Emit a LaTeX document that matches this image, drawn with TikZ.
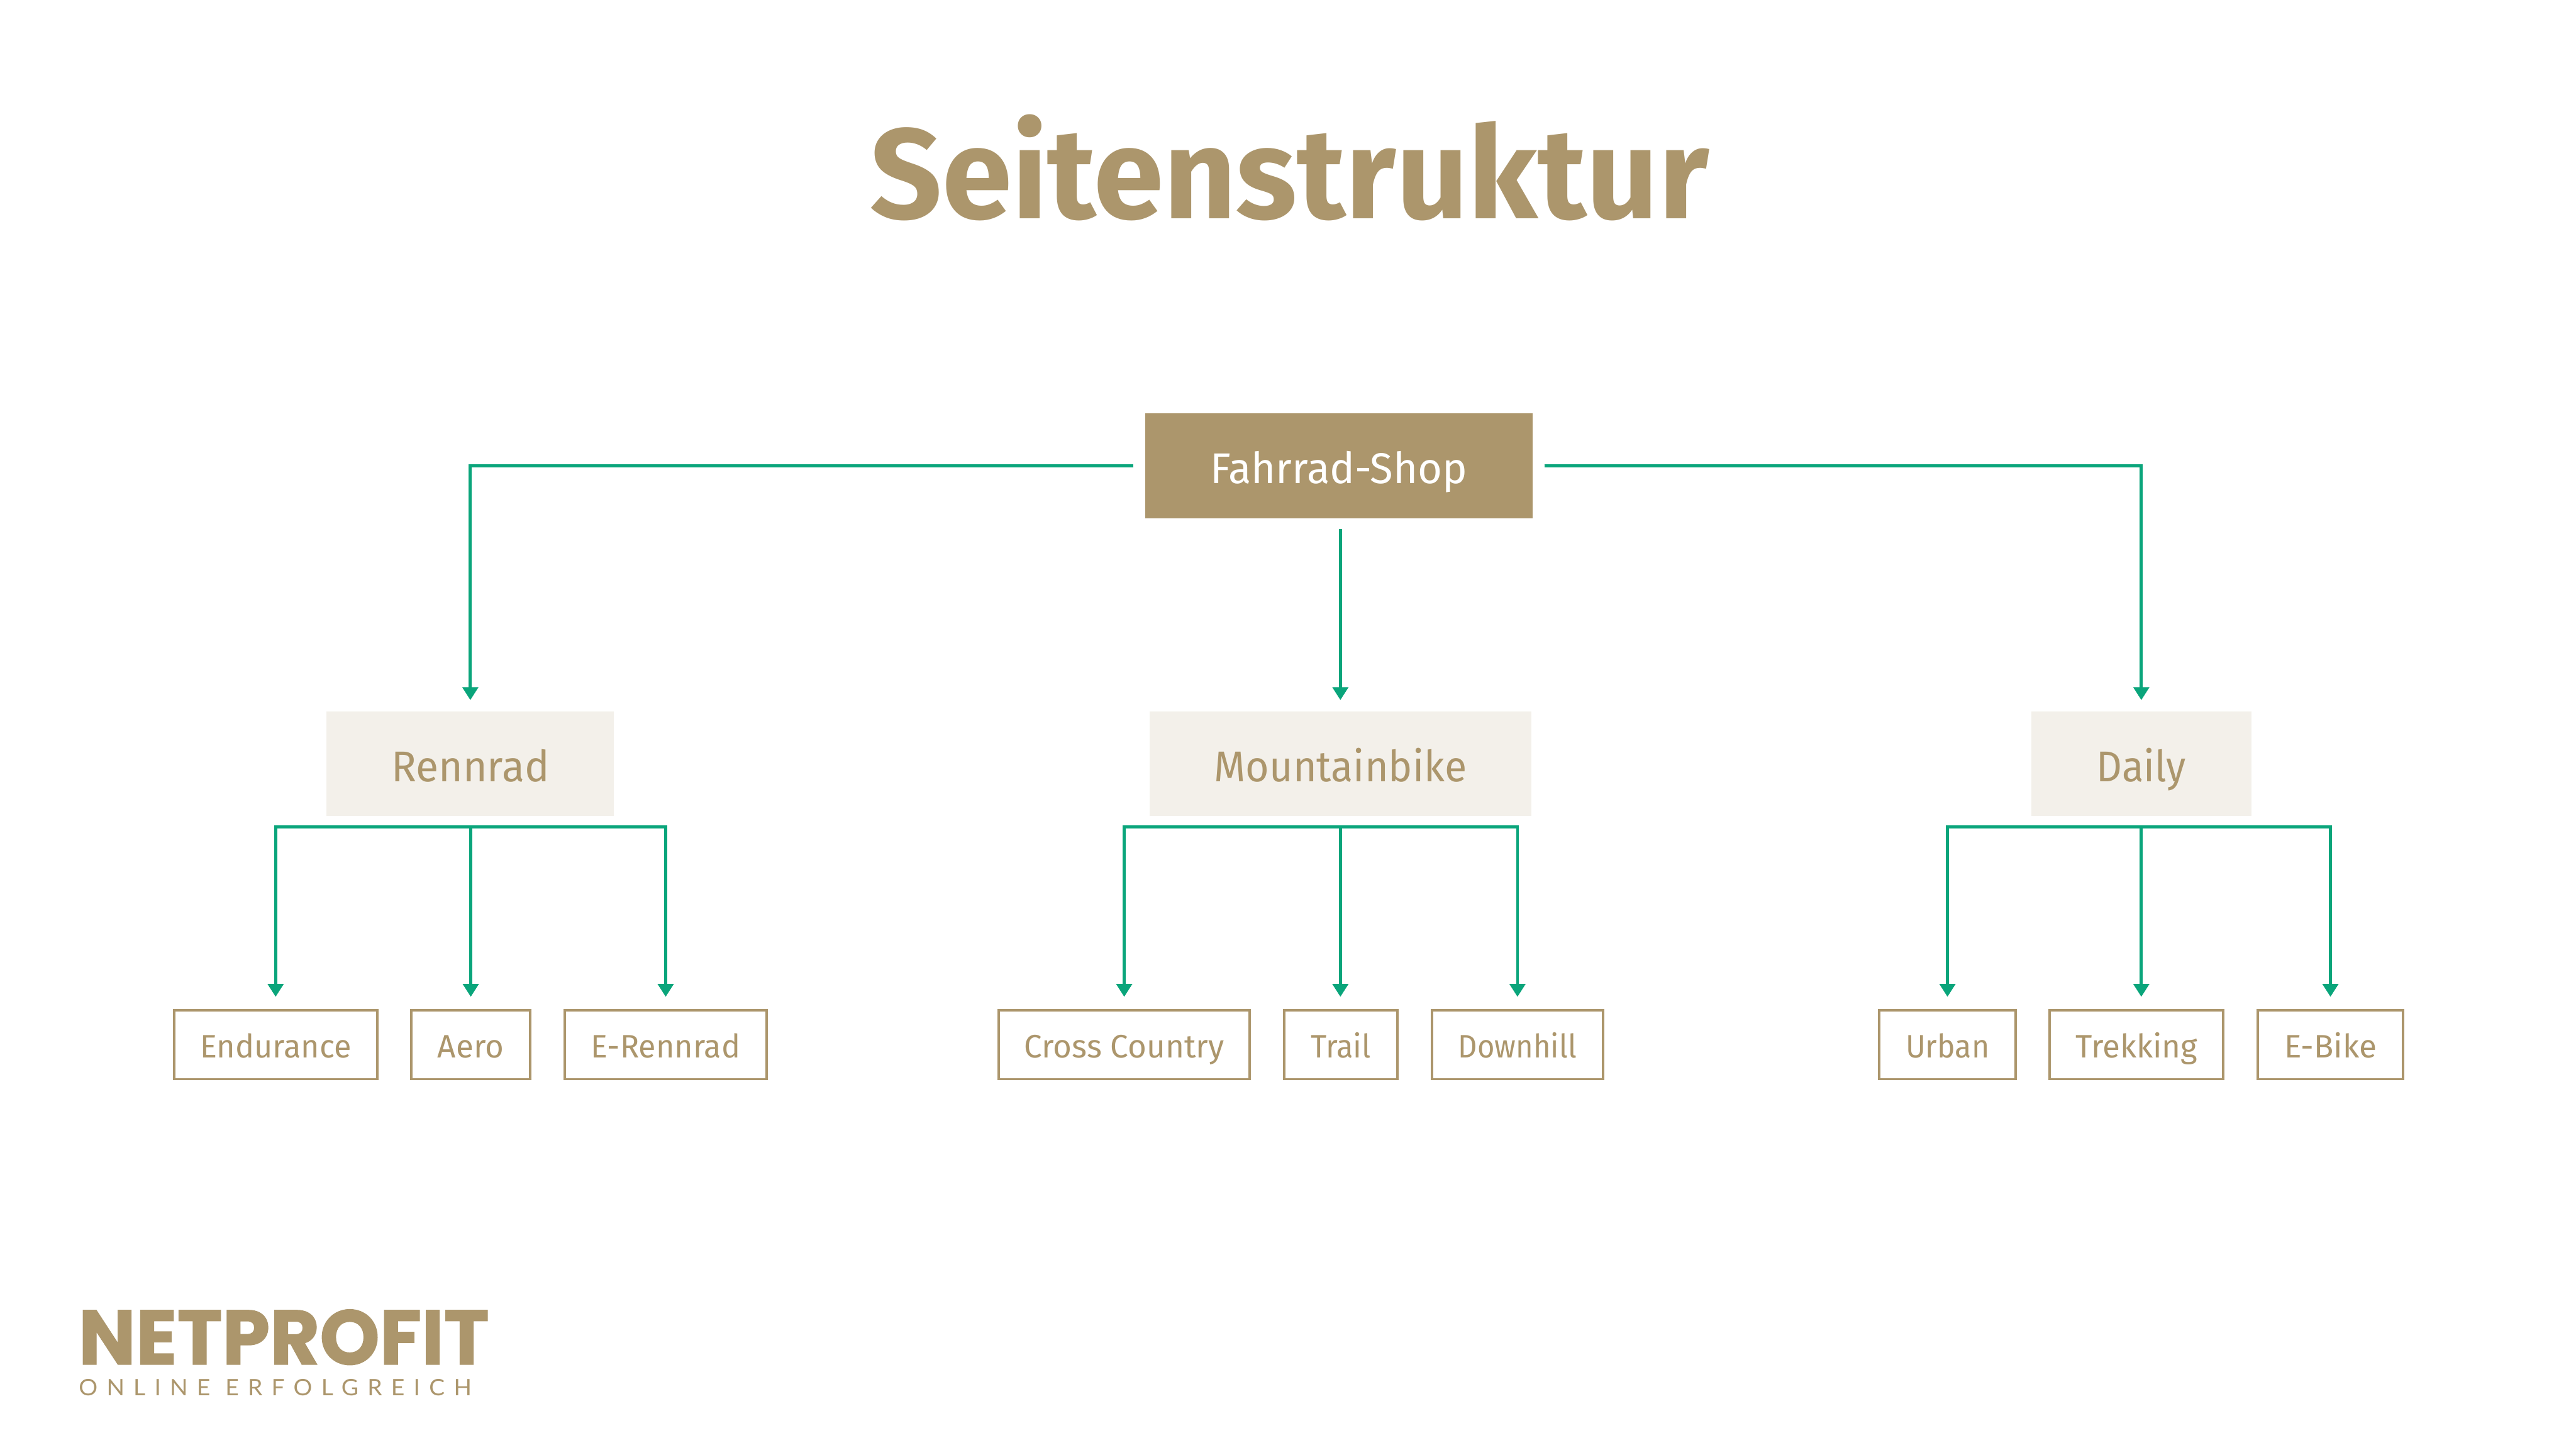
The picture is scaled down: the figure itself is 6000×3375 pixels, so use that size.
\documentclass[tikz,border=0pt]{standalone}
\usepackage{fontspec}
\usepackage{graphicx}
\setmainfont{Fira Sans}
\usetikzlibrary{arrows.meta,calc}
\definecolor{gold}{HTML}{AC966C}
\definecolor{pale}{HTML}{F3F0EA}
\definecolor{teal}{HTML}{0AA57B}
\newfontfamily\logofont[FakeBold=1.2]{Poppins Bold}
\newfontfamily\tagfont[LetterSpace=38]{Lato}
\newcommand{\fitw}[2]{\resizebox{#1cm}{\height}{#2}}
\tikzset{
 x=0.01cm,y=-0.01cm,
 rootbox/.style={fill=gold,inner sep=0,text=white,text height=0.8cm,text depth=0pt,minimum height=2.44cm,font=\fontsize{28.5}{30}\selectfont},
 midbox/.style={fill=pale,inner sep=0,text=gold,text height=0.82cm,text depth=0pt,minimum height=2.43cm,font=\fontsize{28.5}{30}\selectfont},
 leafbox/.style={draw=gold,line width=0.055cm,fill=white,inner sep=0,text=gold,text height=0.6cm,text depth=0pt,minimum height=1.6cm,font=\fontsize{21.5}{24}\selectfont},
 link/.style={draw=teal,line width=0.07cm},
 arrowed/.style={link,-{Triangle[length=0.3cm,width=0.36cm]}},
 bus/.style={link,line cap=rect},
}
\begin{document}
\begin{tikzpicture}
\useasboundingbox (0,0) rectangle (6000,3375);
\fill[white] (0,0) rectangle (6000,3375);
\node[anchor=base,text=gold,inner sep=0,font=\fontsize{85}{90}\selectfont\bfseries] (title) at (3004,509) {\fitw{19.53}{Seitenstruktur}};
\node[rootbox,minimum width=9.03cm] (root) at (3118.5,1085) {\fitw{5.99}{Fahrrad-Shop}};
\node[midbox,minimum width=6.69cm] (a) at (1095.5,1778.5) {\fitw{3.68}{Rennrad}};
\node[midbox,minimum width=8.88cm] (b) at (3122,1778.5) {\fitw{5.88}{Mountainbike}};
\node[midbox,minimum width=5.13cm] (c) at (4987.5,1778.5) {\fitw{2.08}{Daily}};
\node[leafbox,minimum width=4.73cm] (a1) at (642,2433) {\fitw{3.52}{Endurance}};
\node[leafbox,minimum width=2.76cm] (a2) at (1096.5,2433) {\fitw{1.54}{Aero}};
\node[leafbox,minimum width=4.70cm] (a3) at (1550.5,2433) {\fitw{3.47}{E-Rennrad}};
\node[leafbox,minimum width=5.84cm] (b1) at (2618.5,2433) {\fitw{4.65}{Cross Country}};
\node[leafbox,minimum width=2.63cm] (b2) at (3123,2433) {\fitw{1.40}{Trail}};
\node[leafbox,minimum width=3.98cm] (b3) at (3534.5,2433) {\fitw{2.75}{Downhill}};
\node[leafbox,minimum width=3.17cm] (c1) at (4536,2433) {\fitw{1.95}{Urban}};
\node[leafbox,minimum width=4.04cm] (c2) at (4976.5,2433) {\fitw{2.84}{Trekking}};
\node[leafbox,minimum width=3.39cm] (c3) at (5428,2433) {\fitw{2.15}{E-Bike}};
% connectors
\draw[arrowed,shorten <=0.26cm,shorten >=0.26cm] (root.west) -| (a.north);
\draw[arrowed,shorten <=0.26cm,shorten >=0.26cm] (root.east) -| (c.north);
\coordinate (rb) at (root.south -| b.north);
\draw[arrowed,shorten <=0.24cm,shorten >=0.26cm] (rb) -- (b.north);
\coordinate (abus) at ($(a.south)+(0,25)$);
\coordinate (bbus) at ($(b.south)+(0,25)$);
\coordinate (cbus) at ($(c.south)+(0,25)$);
\draw[arrowed,shorten >=0.29cm] (abus -| a1.north) -- (a1.north);
\draw[arrowed,shorten >=0.29cm] (abus -| a2.north) -- (a2.north);
\draw[arrowed,shorten >=0.29cm] (abus -| a3.north) -- (a3.north);
\draw[bus] (abus -| a1.north) -- (abus -| a3.north);
\draw[arrowed,shorten >=0.29cm] (bbus -| b1.north) -- (b1.north);
\draw[arrowed,shorten >=0.29cm] (bbus) -- (bbus |- b2.north);
\draw[arrowed,shorten >=0.29cm] (bbus -| b3.north) -- (b3.north);
\draw[bus] (bbus -| b1.north) -- (bbus -| b3.north);
\draw[arrowed,shorten >=0.29cm] (cbus -| c1.north) -- (c1.north);
\draw[arrowed,shorten >=0.29cm] (cbus) -- (cbus |- c2.north);
\draw[arrowed,shorten >=0.29cm] (cbus -| c3.north) -- (c3.north);
\draw[bus] (cbus -| c1.north) -- (cbus -| c3.north);
% logo
\node[anchor=base west,inner sep=0,text=gold,font=\logofont\fontsize{51}{56}\selectfont] (logo) at (182,3177) {\fitw{9.56}{NETPROFIT}};
\node[anchor=base west,inner sep=0,text=gold,font=\tagfont\fontsize{15}{16}\selectfont] (tag) at (183,3249) {\fitw{9.14}{ONLINE ERFOLGREICH}};
\end{tikzpicture}
\end{document}
